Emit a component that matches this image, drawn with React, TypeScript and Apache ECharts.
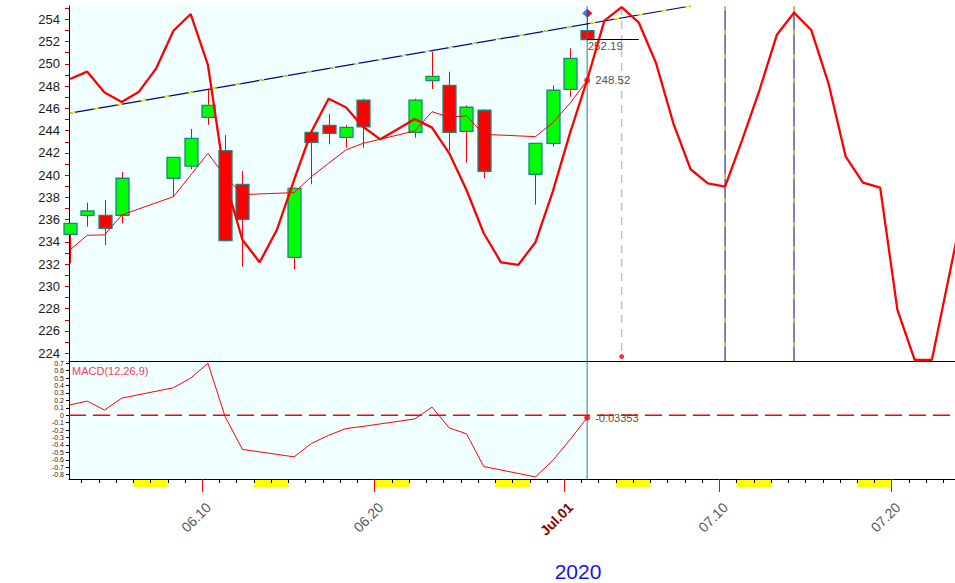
import React, { useEffect, useRef } from 'react';
import * as echarts from 'echarts';

// ---------- data ----------
const candleDates = [
  '2020-06-02', '2020-06-03', '2020-06-04', '2020-06-05', '2020-06-08', '2020-06-09', '2020-06-10',
  '2020-06-11', '2020-06-12', '2020-06-15', '2020-06-16', '2020-06-17', '2020-06-18', '2020-06-19',
  '2020-06-22', '2020-06-23', '2020-06-24', '2020-06-25', '2020-06-26', '2020-06-29', '2020-06-30',
  '2020-07-01', '2020-07-02',
];
const openPrices = [234.68, 236.39, 236.39, 236.39, 239.72, 240.82, 245.2, 242.2, 239.18, 232.62, 243.85, 244.48, 243.4, 246.73, 243.85, 248.49, 248.07, 243.94, 245.83, 240.08, 242.86, 247.71, 252.98];
const closePrices = [235.67, 236.78, 235.23, 239.72, 241.6, 243.31, 246.27, 234.12, 236.03, 238.82, 242.95, 243.76, 244.3, 244.35, 246.75, 248.88, 243.85, 246.1, 240.35, 242.86, 247.63, 250.5, 252.19];
const lowPrices = [232.1, 235.37, 233.73, 235.68, 238.07, 240.53, 244.53, 234.03, 231.78, 231.54, 239.18, 242.77, 242.47, 242.47, 243.37, 247.74, 242.17, 241.12, 239.72, 237.35, 242.56, 247.05, 252.19];
const highPrices = [235.7, 237.53, 237.77, 240.28, 241.6, 244.15, 247.65, 243.6, 240.38, 238.9, 243.85, 245.5, 244.5, 246.87, 246.87, 251.1, 249.3, 246.27, 245.92, 242.86, 248.07, 251.4, 254.2];
const maValues = [233.28, 234.6, 234.63, 236.42, 238.07, 240.0, 241.96, 239.9, 238.25, 238.43, 239.86, 241.07, 242.26, 242.86, 243.97, 245.7, 245.2, 245.34, 243.67, 243.46, 244.71, 246.45, 248.52];
const macdValues = [0.14, 0.19, 0.07, 0.23, 0.37, 0.5, 0.7, -0.02, -0.46, -0.56, -0.38, -0.27, -0.18, -0.15, -0.05, 0.11, -0.17, -0.25, -0.69, -0.83, -0.61, -0.33, -0.03353];

const cycleStartDate = '2020-06-02';
const cycleValues = [
  248.64, 249.3, 247.42, 246.57, 247.5, 249.6, 252.98, 254.48, 249.9, 239.5, 234.2, 232.17, 235.08, 239.57,
  243.9, 246.87, 246.1, 244.35, 243.22, 244.12, 245.05, 244.27, 241.96, 238.67, 234.78, 232.17, 231.93,
  233.97, 238.5,
  243.76, 248.55, 253.88, 255.1, 253.7, 250.05, 244.66, 240.53, 239.27, 238.97, 243.2, 247.65, 252.59,
  254.6, 253.04, 248.25, 241.66, 239.33, 238.88, 227.9, 223.4, 223.4, 230.97, 238.5,
];

const trendDates = ['2020-06-02', '2020-07-08'];
const trendValues = [245.57, 255.2];

const weekendStarts = ['2020-06-06', '2020-06-13', '2020-06-20', '2020-06-27', '2020-07-04', '2020-07-11', '2020-07-18'];
const xLabelDates = ['2020-06-10', '2020-06-20', '2020-07-01', '2020-07-10', '2020-07-20'];
const xLabelTexts = ['06.10', '06.20', 'Jul.01', '07.10', '07.20'];
const priceLabelTicks = [224, 226, 228, 230, 232, 234, 236, 238, 240, 242, 244, 246, 248, 250, 252, 254];
const priceMinorTicks = [224, 225, 226, 227, 228, 229, 230, 231, 232, 233, 234, 235, 236, 237, 238, 239, 240, 241, 242, 243, 244, 245, 246, 247, 248, 249, 250, 251, 252, 253, 254, 255];
const macdLabelTicks = [0.7, 0.6, 0.5, 0.4, 0.3, 0.2, 0.1, 0, -0.1, -0.2, -0.3, -0.4, -0.5, -0.6, -0.7, -0.8];

const lastDate = '2020-07-02';
const lastClose = 252.19;
const lastMa = 248.52;
const lastMacd = -0.03353;
const highMarker = 254.55;
const closeLineEndDate = '2020-07-05';
const projectionDate = '2020-07-04';
const projectionLow = 223.7;
const cycleLineDates = ['2020-07-10', '2020-07-14'];

// ---------- helpers ----------
const dayNum = (s: string) =>
  (Date.UTC(+s.slice(0, 4), +s.slice(5, 7) - 1, +s.slice(8, 10)) - Date.UTC(2020, 4, 31)) / 86400000;
const OFF = 0.33;
const pos = (s: string) => dayNum(s) + OFF;

const X_MIN = 2.27;
const X_MAX = 53.67;
const P_MIN = 223.3;
const P_MAX = 255.2;
const M_MIN = -0.858;
const M_MAX = 0.73;
const FONT = 'Arial, "Liberation Sans", Helvetica, sans-serif';
const NAVY = '#000080';
const YEL = '#ffff00';

export default function App() {
  const ref = useRef<HTMLDivElement>(null);
  useEffect(() => {
    if (!ref.current) return;
    const chart = echarts.init(ref.current, null, { renderer: 'svg' });

    const candleData = candleDates.map((d, i) => [pos(d), openPrices[i], closePrices[i], lowPrices[i], highPrices[i]]);
    const maData = candleDates.map((d, i) => [pos(d), maValues[i]]);
    const macdData = candleDates.map((d, i) => [pos(d), macdValues[i]]);
    const cycleData = cycleValues.map((v, i) => [dayNum(cycleStartDate) + i + OFF, v]);
    const trendData = trendDates.map((d, i) => [pos(d), trendValues[i]]);
    const labelDays = xLabelDates.map(dayNum);
    const dayTicks: number[] = [];
    for (let d = Math.ceil(X_MIN); d <= Math.floor(X_MAX); d++) dayTicks.push(d);
    const lastX = pos(lastDate);
    const macdLabelsA = macdLabelTicks.filter((_v, i) => i % 2 === 0);
    const macdLabelsB = macdLabelTicks.filter((_v, i) => i % 2 === 1);
    const macdFmt = (v: number) => String(Math.round(v * 10) / 10);

    const vline = (x: number, y0: number, y1: number, color: string, width: number, type: any, gi = 0, z = 2) => ({
      type: 'line', xAxisIndex: gi, yAxisIndex: gi, data: [[x, y0], [x, y1]], symbol: 'none', silent: true, z,
      lineStyle: { color, width, type },
    });

    const bgSeries = (gi: number, yMin: number, yMax: number) => ({
      type: 'custom', xAxisIndex: gi, yAxisIndex: gi, z: -1, silent: true, clip: false,
      data: [[X_MIN, lastX]],
      renderItem: (_p: any, api: any) => {
        const a = api.coord([api.value(0), yMax]);
        const b = api.coord([api.value(1), yMin]);
        return { type: 'rect', shape: { x: a[0], y: a[1], width: b[0] - a[0], height: b[1] - a[1] }, style: { fill: '#f0ffff' } };
      },
    });

    const macdLabelStyle = {
      margin: 5, fontSize: 7, lineHeight: 7, fontFamily: FONT, color: '#222',
      showMinLabel: true, showMaxLabel: true, formatter: macdFmt,
    };

    const option: any = {
      animation: false,
      grid: [
        { left: 69, top: 6, width: 886, height: 355 },
        { left: 69, top: 361, width: 886, height: 118 },
        { left: 69, top: 361, width: 886, height: 118 },
      ],
      xAxis: [
        {
          gridIndex: 0, type: 'value', min: X_MIN, max: X_MAX, position: 'bottom',
          axisLine: { show: true, onZero: false, lineStyle: { color: '#000', width: 1 } },
          axisTick: { show: false }, axisLabel: { show: false }, splitLine: { show: false },
        },
        {
          gridIndex: 1, type: 'value', min: X_MIN, max: X_MAX, position: 'bottom',
          axisLine: { show: true, onZero: false, lineStyle: { color: '#000', width: 1 } },
          axisTick: { show: true, customValues: dayTicks, length: 4, lineStyle: { color: '#000', width: 1 } },
          axisLabel: { show: false }, splitLine: { show: false },
        },
        {
          gridIndex: 2, type: 'value', min: X_MIN, max: X_MAX, position: 'bottom',
          axisLine: { show: false, onZero: false },
          axisTick: { show: true, customValues: labelDays, length: 13, lineStyle: { color: '#ff0000', width: 1 } },
          axisLabel: {
            show: true,
            customValues: labelDays.map((d) => d + 0.36),
            showMinLabel: true,
            showMaxLabel: true,
            rotate: 45,
            margin: 26,
            fontSize: 14,
            fontFamily: FONT,
            color: '#505860',
            formatter: (v: number) => {
              const idx = labelDays.indexOf(Math.floor(v));
              if (idx < 0) return '';
              const t = xLabelTexts[idx];
              return t.startsWith('Jul') ? '{jul|' + t + '}' : t;
            },
            rich: { jul: { color: '#8b0000', fontWeight: 'bold', fontSize: 14, fontFamily: FONT } },
          },
          splitLine: { show: false },
        },
      ],
      yAxis: [
        {
          gridIndex: 0, type: 'value', min: P_MIN, max: P_MAX,
          axisLine: { show: true, onZero: false, lineStyle: { color: '#000', width: 1 } },
          axisTick: { show: true, customValues: priceMinorTicks, length: 4, lineStyle: { color: '#cc0000', width: 1 } },
          axisLabel: { customValues: priceLabelTicks, showMinLabel: true, showMaxLabel: true, margin: 9, fontSize: 13, lineHeight: 12, fontFamily: FONT, color: '#1a1a1a' },
          splitLine: { show: false },
        },
        {
          gridIndex: 1, type: 'value', min: M_MIN, max: M_MAX,
          axisLine: { show: true, onZero: false, lineStyle: { color: '#000', width: 1 } },
          axisTick: { show: true, customValues: macdLabelTicks, length: 3, lineStyle: { color: '#000', width: 1 } },
          axisLabel: { ...macdLabelStyle, customValues: macdLabelsA },
          splitLine: { show: false },
        },
        {
          gridIndex: 2, type: 'value', min: M_MIN, max: M_MAX,
          axisLine: { show: false, onZero: false },
          axisTick: { show: false },
          axisLabel: { ...macdLabelStyle, customValues: macdLabelsB },
          splitLine: { show: false },
        },
      ],
      graphic: [
        { type: 'text', left: 72, top: 365, style: { text: 'MACD(12,26,9)', fontSize: 11, fontFamily: FONT, fill: '#f0405a' } },
        { type: 'text', x: 578, y: 571, style: { text: '2020', fontSize: 21, fontFamily: FONT, fill: '#1414f0', textAlign: 'center', textVerticalAlign: 'middle' } },
      ],
      series: [
        bgSeries(0, P_MIN, P_MAX),
        bgSeries(1, M_MIN, M_MAX),
        {
          type: 'custom', xAxisIndex: 1, yAxisIndex: 1, z: -1, silent: true, clip: false,
          data: weekendStarts.map((d) => [dayNum(d), dayNum(d) + 2]),
          renderItem: (_p: any, api: any) => {
            const a = api.coord([api.value(0), M_MIN]);
            const b = api.coord([api.value(1), M_MIN]);
            return { type: 'rect', shape: { x: a[0], y: a[1] + 1, width: b[0] - a[0], height: 7 }, style: { fill: YEL } };
          },
        },
        // trend line
        { type: 'line', xAxisIndex: 0, yAxisIndex: 0, data: trendData, symbol: 'none', silent: true, lineStyle: { color: NAVY, width: 1.2 } },
        { type: 'line', xAxisIndex: 0, yAxisIndex: 0, data: trendData, symbol: 'none', silent: true, lineStyle: { color: YEL, width: 1.2, type: [5, 19] } },
        // cycle vertical lines
        ...cycleLineDates.flatMap((d) => [
          vline(pos(d), P_MAX, P_MIN, NAVY, 1, 'solid'),
          vline(pos(d), P_MAX, P_MIN, YEL, 1, [5, 19]),
        ]),
        // projection dashed line
        vline(pos(projectionDate), cycleValues[dayNum(projectionDate) - dayNum(cycleStartDate)], projectionLow, '#c4c4c4', 1.5, [8, 6]),
        // teal vertical at last bar
        vline(lastX, P_MAX, P_MIN, '#2a8585', 1, 'solid'),
        vline(lastX, M_MAX, M_MIN, '#2a8585', 1, 'solid', 1),
        // moving average
        { type: 'line', xAxisIndex: 0, yAxisIndex: 0, data: maData, symbol: 'none', silent: true, lineStyle: { color: '#ff0000', width: 1 } },
        // candles
        {
          type: 'custom', xAxisIndex: 0, yAxisIndex: 0, silent: true,
          encode: { x: 0, y: [1, 2, 3, 4] },
          data: candleData,
          renderItem: (_p: any, api: any) => {
            const x = api.value(0);
            const o = api.value(1), c = api.value(2), l = api.value(3), h = api.value(4);
            const pO = api.coord([x, o]);
            const pC = api.coord([x, c]);
            const pL = api.coord([x, l]);
            const pH = api.coord([x, h]);
            const w = 13;
            const top = Math.min(pO[1], pC[1]);
            const bot = Math.max(pO[1], pC[1]);
            const cx = Math.round(pO[0]) + 0.5;
            return {
              type: 'group',
              children: [
                { type: 'line', shape: { x1: cx, y1: pH[1], x2: cx, y2: pL[1] }, style: { stroke: '#ff0000', lineWidth: 1 } },
                {
                  type: 'rect',
                  shape: { x: cx - w / 2, y: top, width: w, height: Math.max(bot - top, 1.5) },
                  style: { fill: c >= o ? '#00ff00' : '#ff0000', stroke: '#1a8585', lineWidth: 1.3 },
                },
              ],
            };
          },
        },
        // cycle line (thick)
        { type: 'line', xAxisIndex: 0, yAxisIndex: 0, data: cycleData, symbol: 'none', silent: true, lineStyle: { color: '#ff0000', width: 2.3 } },
        // last close horizontal line
        {
          type: 'line', xAxisIndex: 0, yAxisIndex: 0, silent: true, symbol: 'none',
          data: [[lastX, lastClose], [pos(closeLineEndDate), lastClose]],
          lineStyle: { color: '#000', width: 1.2 },
        },
        {
          type: 'scatter', xAxisIndex: 0, yAxisIndex: 0, silent: true, symbolSize: 1,
          itemStyle: { color: 'rgba(0,0,0,0)' },
          data: [[lastX, lastClose]],
          label: { show: true, position: [1, 1], formatter: () => lastClose.toFixed(2), fontSize: 11.5, fontFamily: FONT, color: '#1a1a1a' },
        },
        // last MA marker
        {
          type: 'scatter', xAxisIndex: 0, yAxisIndex: 0, silent: true, symbolSize: 6,
          itemStyle: { color: '#ff0000' },
          data: [[lastX, lastMa]],
          label: { show: true, position: 'right', distance: 5, formatter: () => lastMa.toFixed(2), fontSize: 11.5, fontFamily: FONT, color: '#1a1a1a' },
        },
        // projection bottom dot
        {
          type: 'scatter', xAxisIndex: 0, yAxisIndex: 0, silent: true, symbolSize: 5,
          itemStyle: { color: '#ff0000' },
          data: [[pos(projectionDate), projectionLow]],
        },
        // high marker diamond
        {
          type: 'scatter', xAxisIndex: 0, yAxisIndex: 0, silent: true, symbol: 'diamond', symbolSize: [10, 9],
          itemStyle: { color: '#2050e0' },
          data: [[lastX, highMarker]],
          z: 5,
        },
        {
          type: 'scatter', xAxisIndex: 0, yAxisIndex: 0, silent: true, symbol: 'path://M0,0L1,1L0,2Z', symbolSize: [5, 9],
          symbolOffset: [2.5, 0], symbolKeepAspect: false,
          itemStyle: { color: '#ff0000' },
          data: [[lastX, highMarker]],
          z: 6,
        },
        // MACD
        {
          type: 'line', xAxisIndex: 1, yAxisIndex: 1, silent: true, symbol: 'none',
          data: [[X_MIN, 0], [X_MAX, 0]],
          lineStyle: { color: '#ff0000', width: 1.3, type: [17, 7] },
        },
        { type: 'line', xAxisIndex: 1, yAxisIndex: 1, data: macdData, symbol: 'none', silent: true, lineStyle: { color: '#ff0000', width: 1 } },
        {
          type: 'scatter', xAxisIndex: 1, yAxisIndex: 1, silent: true, symbolSize: 6,
          itemStyle: { color: '#ff0000' },
          data: [[lastX, lastMacd]],
          label: { show: true, position: 'right', distance: 5, formatter: () => String(lastMacd), fontSize: 11, fontFamily: FONT, color: '#1a1a1a' },
        },
      ],
    };

    chart.setOption(option);
    return () => chart.dispose();
  }, []);

  return <div ref={ref} style={{ position: 'fixed', left: 0, top: 0, width: 955, height: 583, background: '#fff' }} />;
}
